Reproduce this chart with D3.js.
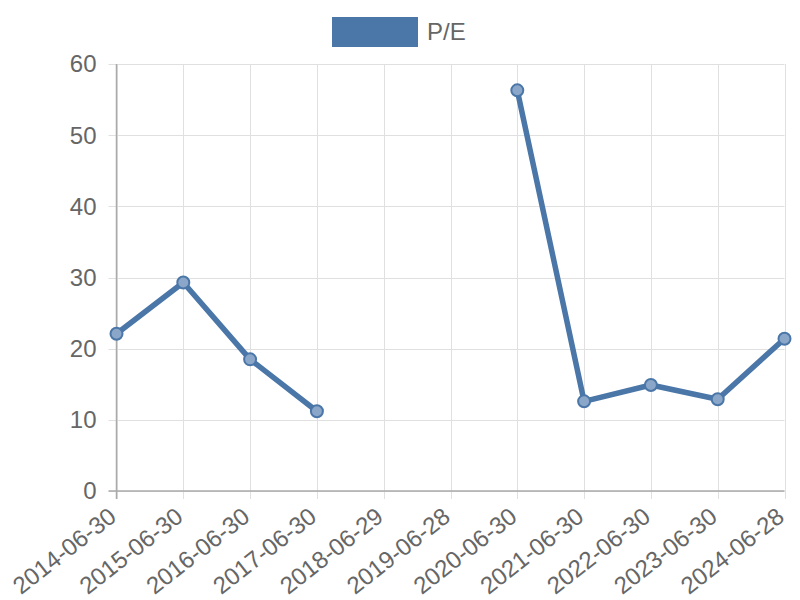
<!DOCTYPE html>
<html><head><meta charset="utf-8">
<script src="https://cdn.jsdelivr.net/npm/d3@7"></script>
<style>body{margin:0;background:#fff}svg{display:block}</style>
</head><body>
<svg id="c" width="800" height="600"></svg>
<script>
const categories = ["2014-06-30","2015-06-30","2016-06-30","2017-06-30","2018-06-29","2019-06-28","2020-06-30","2021-06-30","2022-06-30","2023-06-30","2024-06-28"];
const peValues = [22.1, 29.3, 18.5, 11.2, null, null, 56.3, 12.6, 14.9, 12.9, 21.4];
const yTicks = [0, 10, 20, 30, 40, 50, 60];
const seriesName = "P/E";

(function () {
const svg = d3.select("#c");
const pLeft = 116.5, pRight = 784.5, pTop = 64, pBottom = 491;
const font = "'Liberation Sans', Arial, sans-serif";
const color = "#4a76a8";

const x = d3.scalePoint().domain(categories).range([pLeft, pRight]);
const y = d3.scaleLinear().domain([0, 60]).range([pBottom, pTop]);

const g = svg.append("g");
g.selectAll(".hg").data(yTicks).enter().append("line")
  .attr("x1", pLeft - 8).attr("x2", pRight).attr("y1", d => Math.round(y(d)) + 0.5).attr("y2", d => Math.round(y(d)) + 0.5)
  .attr("stroke", "#e0e0e0").attr("stroke-width", 1);
g.selectAll(".vg").data(categories).enter().append("line")
  .attr("x1", d => Math.round(x(d)) + 0.5).attr("x2", d => Math.round(x(d)) + 0.5).attr("y1", pTop).attr("y2", pBottom + 8)
  .attr("stroke", "#e0e0e0").attr("stroke-width", 1);
g.append("line").attr("x1", pLeft).attr("x2", pLeft).attr("y1", pTop).attr("y2", pBottom + 8).attr("stroke", "#aaa").attr("stroke-width", 1.5);
g.append("line").attr("x1", pLeft - 8).attr("x2", pRight).attr("y1", pBottom).attr("y2", pBottom).attr("stroke", "#aaa").attr("stroke-width", 1.5);

g.selectAll(".yl").data(yTicks).enter().append("text")
  .attr("x", pLeft - 20).attr("y", d => y(d)).attr("dy", "0.35em")
  .attr("text-anchor", "end").attr("font-family", font).attr("font-size", 24).attr("fill", "#666")
  .text(d => d);

g.selectAll(".xl").data(categories).enter().append("text")
  .attr("transform", d => `translate(${x(d) - 4},${pBottom + 22}) rotate(-38)`)
  .attr("text-anchor", "end").attr("dy", "0.35em").attr("font-family", font).attr("font-size", 24).attr("fill", "#666")
  .text(d => d);

const data = categories.map((c, i) => ({c, v: peValues[i]}));
const line = d3.line().defined(d => d.v != null).x(d => x(d.c)).y(d => y(d.v));
svg.append("path").datum(data).attr("d", line).attr("fill", "none")
  .attr("stroke", color).attr("stroke-width", 5.5).attr("stroke-linejoin", "round");
svg.selectAll(".pt").data(data.filter(d => d.v != null)).enter().append("circle")
  .attr("cx", d => x(d.c)).attr("cy", d => y(d.v)).attr("r", 6)
  .attr("fill", "#8aa6c8").attr("stroke", color).attr("stroke-width", 2);

svg.append("rect").attr("x", 332).attr("y", 17).attr("width", 86).attr("height", 30).attr("fill", color);
svg.append("text").attr("x", 427).attr("y", 32).attr("dy", "0.35em")
  .attr("font-family", font).attr("font-size", 24).attr("fill", "#666").text(seriesName);
})();
</script>
</body></html>
